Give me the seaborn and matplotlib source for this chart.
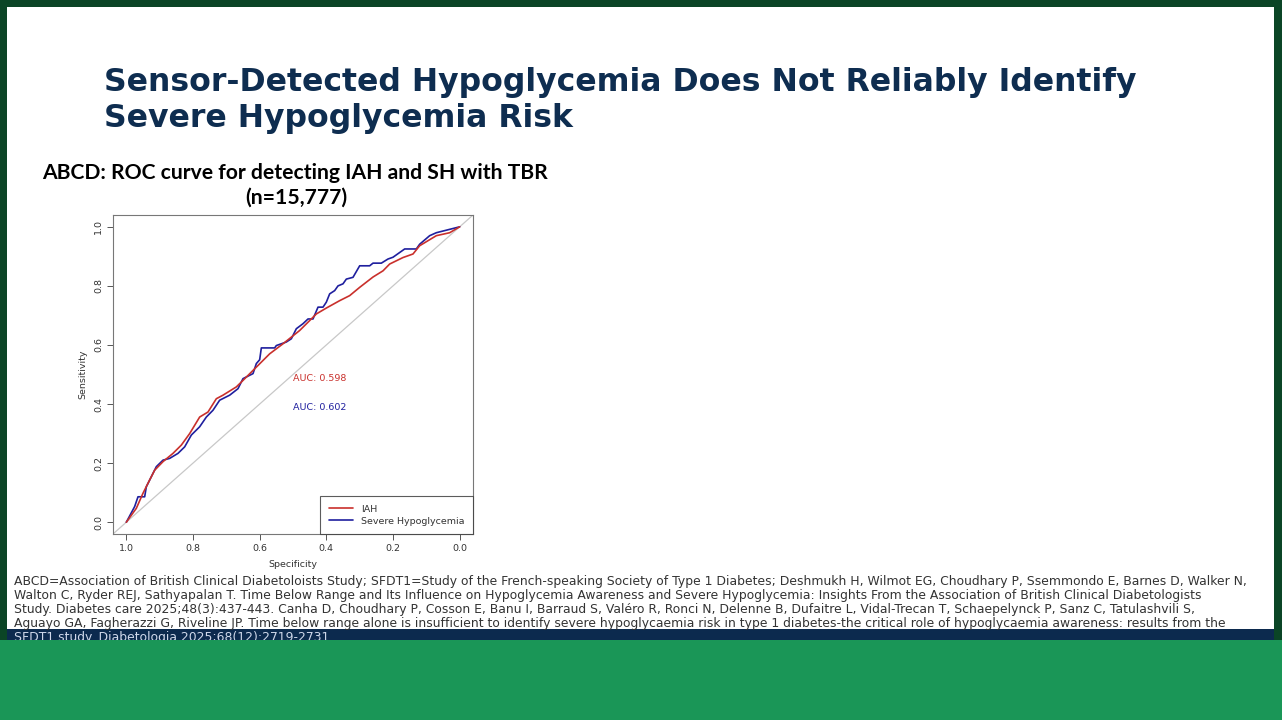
import pandas as pd
import matplotlib.pyplot as plt
import matplotlib.patches as mpatches
import seaborn as sns

# ROC points (specificity, sensitivity)
iah_spec = [1.0, 0.97, 0.95, 0.93, 0.915, 0.89, 0.86, 0.835, 0.81, 0.78, 0.755, 0.73, 0.71, 0.67,
            0.65, 0.61, 0.57, 0.53, 0.48, 0.43, 0.40, 0.36, 0.33, 0.30, 0.26, 0.23, 0.21, 0.17,
            0.14, 0.12, 0.07, 0.03, 0.0]
iah_sens = [0.0, 0.047, 0.098, 0.143, 0.176, 0.205, 0.233, 0.261, 0.30, 0.356, 0.373, 0.418, 0.43,
            0.458, 0.48, 0.525, 0.57, 0.604, 0.649, 0.705, 0.725, 0.75, 0.767, 0.795, 0.83, 0.851,
            0.874, 0.896, 0.908, 0.936, 0.97, 0.98, 1.0]

sh_spec = [1.0, 0.975, 0.965, 0.945, 0.94, 0.925, 0.91, 0.89, 0.87, 0.845, 0.825, 0.805, 0.78,
           0.76, 0.74, 0.72, 0.69, 0.665, 0.65, 0.62, 0.61, 0.60, 0.595, 0.555, 0.55, 0.52, 0.505,
           0.49, 0.47, 0.455, 0.44, 0.425, 0.41, 0.40, 0.39, 0.375, 0.365, 0.35, 0.34, 0.32, 0.30,
           0.27, 0.26, 0.235, 0.215, 0.20, 0.165, 0.13, 0.12, 0.09, 0.07, 0.035, 0.0]
sh_sens = [0.0, 0.053, 0.086, 0.086, 0.12, 0.154, 0.188, 0.21, 0.216, 0.233, 0.255, 0.295, 0.323,
           0.356, 0.379, 0.413, 0.43, 0.452, 0.486, 0.503, 0.537, 0.55, 0.59, 0.59, 0.598, 0.61,
           0.621, 0.655, 0.672, 0.688, 0.688, 0.728, 0.728, 0.745, 0.773, 0.784, 0.80, 0.807,
           0.823, 0.829, 0.868, 0.868, 0.877, 0.877, 0.891, 0.897, 0.925, 0.925, 0.941, 0.97,
           0.98, 0.99, 1.0]

series_names = ['IAH', 'Severe Hypoglycemia']
auc_labels = ['AUC: 0.598', 'AUC: 0.602']
ticks = [1.0, 0.8, 0.6, 0.4, 0.2, 0.0]

slide_title = ['Sensor-Detected Hypoglycemia Does Not Reliably Identify',
               'Severe Hypoglycemia Risk']
chart_title = ['ABCD: ROC curve for detecting IAH and SH with TBR', '(n=15,777)']
footnote = [
    'ABCD=Association of British Clinical Diabetoloists Study; SFDT1=Study of the French-speaking Society of Type 1 Diabetes; Deshmukh H, Wilmot EG, Choudhary P, Ssemmondo E, Barnes D, Walker N,',
    'Walton C, Ryder REJ, Sathyapalan T. Time Below Range and Its Influence on Hypoglycemia Awareness and Severe Hypoglycemia: Insights From the Association of British Clinical Diabetologists',
    'Study. Diabetes care 2025;48(3):437-443. Canha D, Choudhary P, Cosson E, Banu I, Barraud S, Valéro R, Ronci N, Delenne B, Dufaitre L, Vidal-Trecan T, Schaepelynck P, Sanz C, Tatulashvili S,',
    'Aguayo GA, Fagherazzi G, Riveline JP. Time below range alone is insufficient to identify severe hypoglycaemia risk in type 1 diabetes-the critical role of hypoglycaemia awareness: results from the',
    'SFDT1 study. Diabetologia 2025;68(12):2719-2731',
]

red = '#c9302c'
blue = '#1f1f9e'

sns.set_style('white')
plt.rcParams['font.family'] = ['DejaVu Sans']

W, H = 1282, 720
fig = plt.figure(figsize=(W / 100, H / 100), dpi=100, facecolor='#0b4526')


def fx(x):
    return x / W


def fy(y):
    return 1 - y / H


# slide background pieces
fig.patches.append(mpatches.Rectangle((fx(7), fy(629)), fx(1267), 622 / H, transform=fig.transFigure,
                                      facecolor='white', edgecolor='none', zorder=-2))
fig.patches.append(mpatches.Rectangle((fx(7), fy(641)), fx(1267), 12 / H, transform=fig.transFigure,
                                      facecolor='#0c2a4e', edgecolor='none', zorder=-2))
fig.patches.append(mpatches.Rectangle((0, 0), 1, fy(640), transform=fig.transFigure,
                                      facecolor='#1a9657', edgecolor='none', zorder=6))

# titles
fig.text(fx(104), fy(83), slide_title[0], fontsize=22.7, fontweight='bold', color='#0e2d50', va='center')
fig.text(fx(104), fy(118), slide_title[1], fontsize=22.7, fontweight='bold', color='#0e2d50', va='center')
fig.text(fx(295), fy(173), chart_title[0], fontsize=15.2, fontweight='bold', color='black',
         ha='center', va='center', family=['Lato', 'DejaVu Sans'])
fig.text(fx(296), fy(198), chart_title[1], fontsize=15.2, fontweight='bold', color='black',
         ha='center', va='center', family=['Lato', 'DejaVu Sans'])

# footnote
for i, line in enumerate(footnote):
    col = '#cfd8ea' if i == 4 else '#333333'
    fig.text(fx(14), fy(581 + 14 * i), line, fontsize=8.95, color=col, va='center', zorder=3)

# ROC panel
ax = fig.add_axes([fx(113), fy(534), fx(360), 319 / H])
ax.axline((1, 0), (0, 1), color='#c8c8c8', lw=0.9, zorder=1)
df_iah = pd.DataFrame({'spec': iah_spec, 'sens': iah_sens})
df_sh = pd.DataFrame({'spec': sh_spec, 'sens': sh_sens})
sns.lineplot(data=df_iah, x='spec', y='sens', sort=False, estimator=None, color=red, lw=1.2,
             ax=ax, label=series_names[0], zorder=3)
sns.lineplot(data=df_sh, x='spec', y='sens', sort=False, estimator=None, color=blue, lw=1.2,
             ax=ax, label=series_names[1], zorder=2)

ax.set_xlim(1.04, -0.04)
ax.set_ylim(-0.04, 1.04)
ax.set_xticks(ticks)
ax.set_yticks(ticks)
ax.set_xticklabels([f'{t:.1f}' for t in ticks])
ax.set_yticklabels([f'{t:.1f}' for t in ticks], rotation=90, va='center')
ax.tick_params(axis='both', which='both', direction='out', length=4, width=0.7, color='#555555',
               labelsize=6.8, labelcolor='#333333', bottom=True, left=True, pad=3)
ax.set_xlabel('Specificity', fontsize=6.8, color='#333333', labelpad=5)
ax.set_ylabel('Sensitivity', fontsize=6.8, color='#333333', labelpad=5)
for s in ax.spines.values():
    s.set_color('#777777')
    s.set_linewidth(0.8)

ax.text(0.50, 0.487, auc_labels[0], color=red, fontsize=6.8, va='center', ha='left')
ax.text(0.50, 0.388, auc_labels[1], color=blue, fontsize=6.8, va='center', ha='left')

leg = ax.legend(loc='lower right', fontsize=6.8, frameon=True, fancybox=False, borderaxespad=0,
                edgecolor='#333333', handlelength=2.6, borderpad=0.9, labelspacing=0.3)
leg.get_frame().set_linewidth(0.8)
for t in leg.get_texts():
    t.set_color('#333333')

fig.savefig('out.png', dpi=100, facecolor=fig.get_facecolor())
